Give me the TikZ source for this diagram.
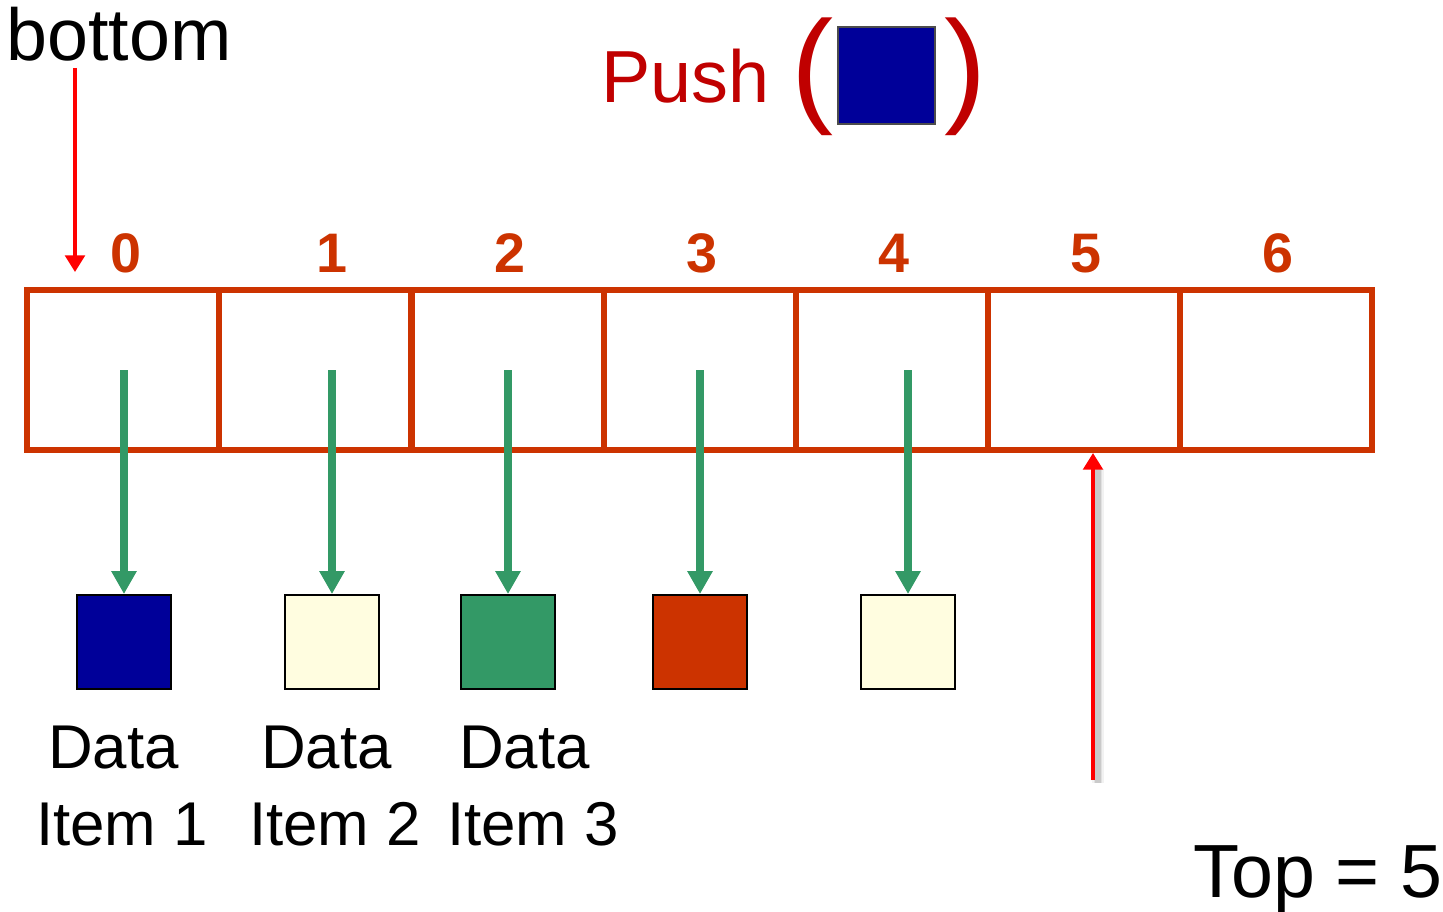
\documentclass[tikz,border=0pt]{standalone}
\usepackage{fontspec}
\setmainfont{Liberation Sans}
\usetikzlibrary{arrows.meta}
\definecolor{cellred}{HTML}{CC3300}
\definecolor{linkgreen}{HTML}{339966}
\definecolor{itemblue}{HTML}{000099}
\definecolor{itemcream}{HTML}{FFFDE0}
\definecolor{pushred}{HTML}{C00000}
\definecolor{ptrred}{HTML}{FF0000}
\begin{document}
\begin{tikzpicture}[x=0.02cm,y=-0.02cm,
  cell/.style={draw=cellred,line width=3.4pt,minimum width=3.84cm,minimum height=3.2cm,inner sep=0pt},
  item/.style={draw=black,line width=1.1pt,minimum size=1.88cm,inner sep=0pt},
  idx/.style={text=cellred,font=\fontsize{31.7}{36}\selectfont\bfseries,anchor=base,inner sep=0pt},
  caption/.style={font=\fontsize{35.2}{43.7}\selectfont,align=center,anchor=base,inner sep=0pt},
  link/.style={draw=linkgreen,line width=4pt,-{Triangle[width=13.6pt,length=13pt]}},
  pointer/.style={draw=ptrred,line width=2.6pt,-{Triangle[width=11pt,length=9.5pt]}},
  paren/.style={text=pushred,font=\fontsize{72}{80}\selectfont,inner sep=0pt}]
\useasboundingbox (0,0) rectangle (1443,912);

% array cells and their indices
\foreach \i/\x/\lx in {0/123/126,1/315/332,2/507.5/510,3/700/702,4/892/894,5/1084/1086,6/1276/1278}{
  \node[cell] (c\i) at (\x,370) {};
  \node[idx] (n\i) at (\lx,273) {\i};
}

% stored data items
\node[item,fill=itemblue]  (d1) at (124,642) {};
\node[item,fill=itemcream] (d2) at (332,642) {};
\node[item,fill=linkgreen] (d3) at (508,642) {};
\node[item,fill=cellred]   (d4) at (700,642) {};
\node[item,fill=itemcream] (d5) at (908,642) {};

% references from the cells to the items
\foreach \k/\x in {1/124,2/332,3/508,4/700,5/908}{
  \coordinate (s\k) at (\x,370);
  \draw[link] (s\k) -- (d\k.north);
}

% item captions (anchored on the baseline of the second line)
\node[caption] (t1) at (122,845) {Data\kern0.278em\\Item 1};
\node[caption] (t2) at (335,845) {Data\kern0.278em\\Item 2};
\node[caption] (t3) at (533,845) {Data\kern0.278em\\Item 3};

% bottom marker
\node[font=\fontsize{41.9}{48}\selectfont,anchor=base west,inner sep=0pt] (bot) at (6,61) {bottom};
\coordinate (bstart) at (75,68);
\draw[pointer,shorten >=8.5pt] (bstart) -- (bstart |- c0.north);

% top marker with its soft shadow
\coordinate (tfoot) at (1093,780);
\foreach \w/\o in {7/0.05,5/0.07,3/0.1}
  \draw[line width=\w pt,black,opacity=\o] ([shift={(5,3)}]tfoot) -- ([shift={(5,16)}]tfoot |- c5.south);
\draw[pointer,line width=2.8pt] (tfoot) -- (tfoot |- c5.south);
\node[font=\fontsize{42.9}{48}\selectfont,anchor=base west,inner sep=0pt] (top) at (1193,897) {Top = 5};

% push operation
\node[text=pushred,font=\fontsize{42}{48}\selectfont,anchor=base west,inner sep=0pt] (push) at (601,103) {Push};
\node[paren] (lp) at (813,77) {(};
\node[paren] (rp) at (966,77) {)};
\node[draw=black!70,line width=0.8pt,fill=itemblue,minimum size=1.94cm,inner sep=0pt] (new) at (886.5,75.5) {};
\end{tikzpicture}
\end{document}
